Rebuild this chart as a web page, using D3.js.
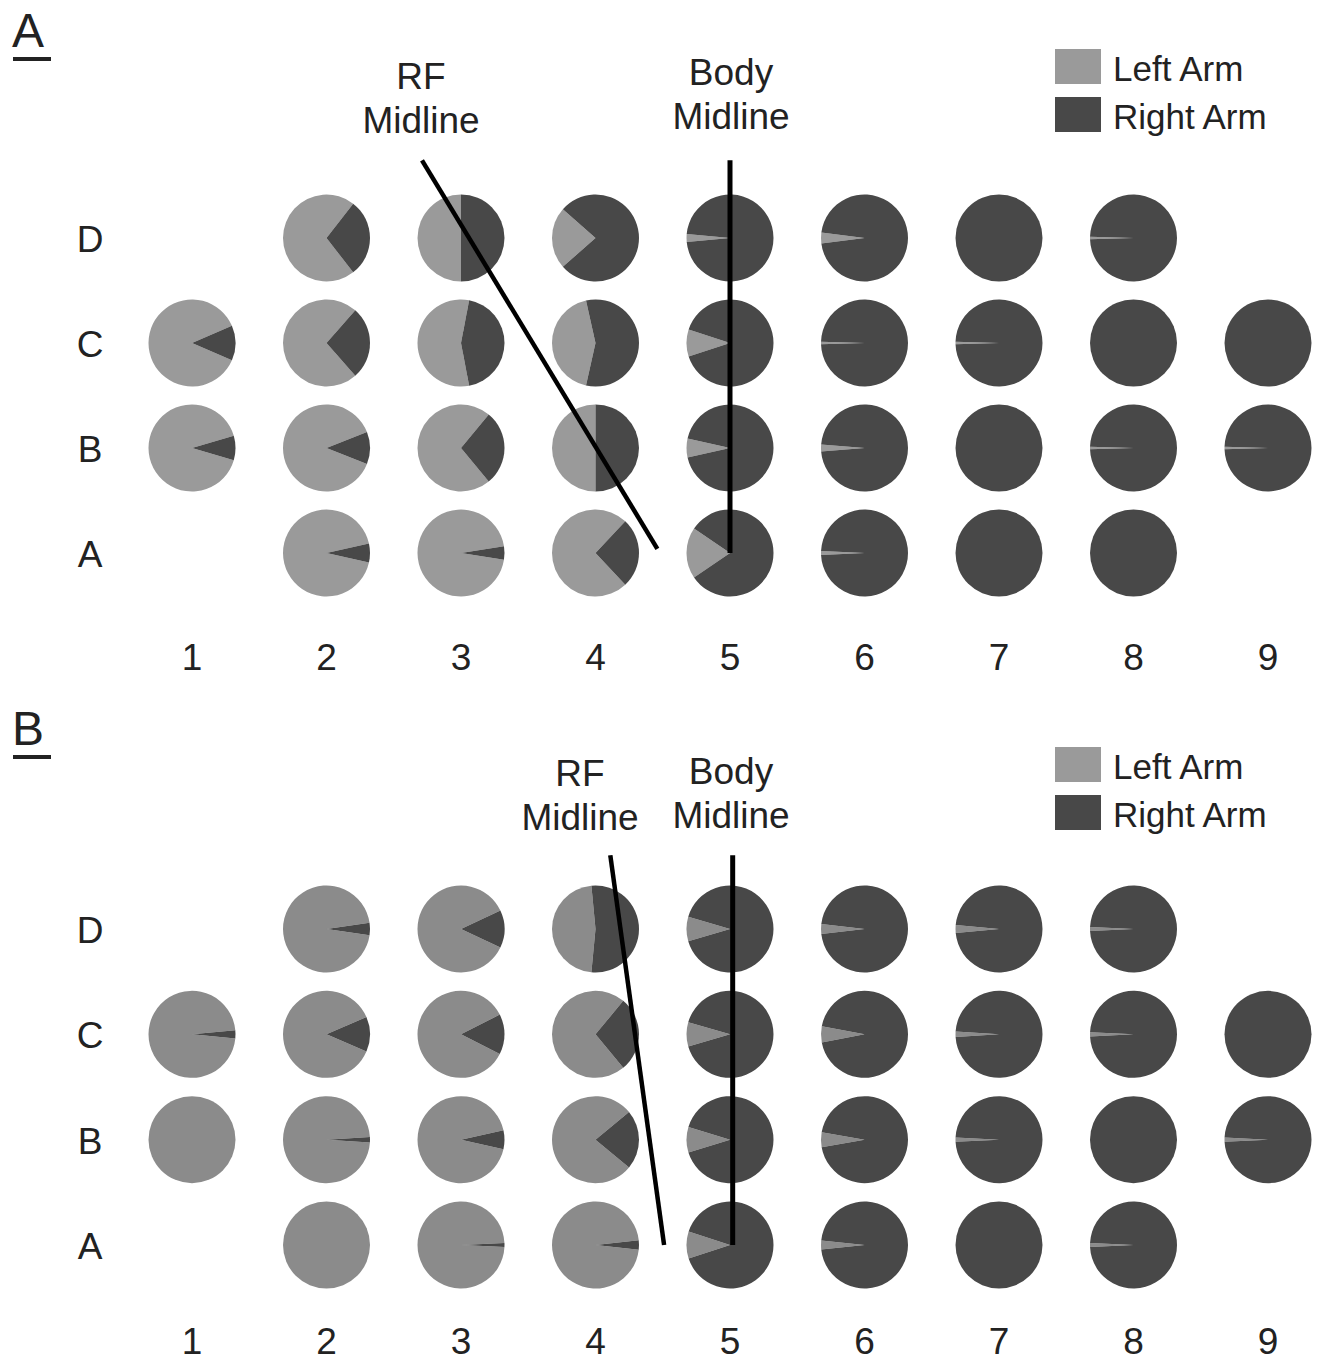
<!DOCTYPE html>
<html>
<head>
<meta charset="utf-8">
<script src="https://cdn.jsdelivr.net/npm/d3@7"></script>
<style>
  html, body { margin: 0; padding: 0; background: #fff; }
  svg text { font-family: "Liberation Sans", Arial, sans-serif; fill: #222; }
</style>
</head>
<body>
<svg id="chart" width="1318" height="1361"></svg>
<script>
// ---- Data ----
const columns = [1, 2, 3, 4, 5, 6, 7, 8, 9];
const rows = ["D", "C", "B", "A"];
const seriesNames = ["Left Arm", "Right Arm"];

// Fraction of "Left Arm" per cell (rows D, C, B, A; columns 1..9); null = no pie
const panelALeft = [
  [null, 0.71, 0.50, 0.23, 0.03, 0.04, 0.00, 0.01, null],
  [0.87, 0.73, 0.56, 0.43, 0.10, 0.01, 0.01, 0.00, 0.00],
  [0.91, 0.88, 0.72, 0.50, 0.07, 0.025, 0.00, 0.01, 0.01],
  [null, 0.93, 0.95, 0.74, 0.19, 0.015, 0.00, 0.00, null]
];
const panelBLeft = [
  [null, 0.955, 0.86, 0.47, 0.09, 0.037, 0.03, 0.015, null],
  [0.97, 0.87, 0.85, 0.72, 0.09, 0.06, 0.02, 0.015, 0.00],
  [1.00, 0.98, 0.93, 0.78, 0.095, 0.055, 0.015, 0.00, 0.015],
  [null, 1.00, 0.985, 0.965, 0.10, 0.033, 0.00, 0.015, null]
];
// Midlines in data coordinates: [column, rowIndex] (rowIndex A=1 ... D=4)
const panelARF = [[2.71, 4.74], [4.46, 1.04]];
const panelBRF = [[4.11, 4.70], [4.51, 1.00]];
const bodyMidline = [[5, 4.74], [5, 1.0]];
const bodyMidlineB = [[5.02, 4.70], [5.02, 1.0]];

// ---- Drawing ----
const svg = d3.select("#chart");
const darkColor = "#484848";
const lightLegend = "#9a9a9a";

const x = d3.scaleLinear().domain([1, 9]).range([192, 1268]);
const rowIdx = { D: 4, C: 3, B: 2, A: 1 };

function drawPanel(opts) {
  const g = svg.append("g");
  const y = d3.scaleLinear().domain([1, 4]).range([opts.yA, opts.yD]);
  const R = 43.5;
  const lightColor = opts.light;

  // Panel letter with underline
  g.append("text").attr("x", 12).attr("y", opts.top + 47)
    .style("font-size", "48px").text(opts.letter);
  g.append("rect").attr("x", 13).attr("y", opts.top + 57).attr("width", 38).attr("height", 4).attr("fill", "#222");

  // Legend
  const lg = g.append("g").attr("transform", `translate(1055,${opts.top + 49})`);
  seriesNames.forEach((name, i) => {
    lg.append("rect").attr("x", 0).attr("y", i * 48).attr("width", 46).attr("height", 35)
      .attr("fill", i === 0 ? lightLegend : darkColor);
    lg.append("text").attr("x", 58).attr("y", i * 48 + 32).style("font-size", "35px").text(name);
  });

  // Row labels
  rows.forEach(r => {
    g.append("text").attr("x", 90).attr("y", y(rowIdx[r]) + 14)
      .attr("text-anchor", "middle").style("font-size", "37px").text(r);
  });
  // Column labels
  columns.forEach(c => {
    g.append("text").attr("x", x(c)).attr("y", opts.colLabelY)
      .attr("text-anchor", "middle").style("font-size", "37px").text(c);
  });

  // Pies
  const arc = d3.arc().innerRadius(0).outerRadius(R);
  opts.data.forEach((rowVals, ri) => {
    const r = rows[ri];
    rowVals.forEach((L, ci) => {
      if (L === null) return;
      const start = 1.5 * Math.PI - Math.PI * L;
      const pie = d3.pie().sort(null).startAngle(start).endAngle(start + 2 * Math.PI);
      const arcs = pie([L, 1 - L]).filter(d => d.value > 0);
      const pg = g.append("g").attr("transform", `translate(${x(columns[ci])},${y(rowIdx[r])})`);
      pg.selectAll("path").data(arcs).join("path")
        .attr("d", arc)
        .attr("fill", d => d.index === 0 ? lightColor : darkColor);
    });
  });

  // Midlines
  const line = d3.line().x(d => x(d[0])).y(d => y(d[1]));
  g.append("path").attr("d", line(opts.rf)).attr("stroke", "#000").attr("stroke-width", 4.5).attr("fill", "none");
  g.append("path").attr("d", line(opts.body)).attr("stroke", "#000").attr("stroke-width", 5).attr("fill", "none");

  // Midline labels
  const rfX = opts.rfLabelX;
  g.append("text").attr("x", rfX).attr("y", opts.top + opts.rfY1).attr("text-anchor", "middle").style("font-size", "37px").text("RF");
  g.append("text").attr("x", rfX).attr("y", opts.top + opts.rfY1 + 44).attr("text-anchor", "middle").style("font-size", "37px").text("Midline");
  g.append("text").attr("x", 731).attr("y", opts.top + opts.bodyY1).attr("text-anchor", "middle").style("font-size", "37px").text("Body");
  g.append("text").attr("x", 731).attr("y", opts.top + opts.bodyY1 + 44).attr("text-anchor", "middle").style("font-size", "37px").text("Midline");
}

drawPanel({
  letter: "A", top: 0, yD: 238, yA: 553, colLabelY: 670,
  data: panelALeft, light: "#9a9a9a",
  rf: panelARF, body: bodyMidline,
  rfLabelX: 421, rfY1: 89, bodyY1: 85
});
drawPanel({
  letter: "B", top: 698, yD: 929, yA: 1245, colLabelY: 1354,
  data: panelBLeft, light: "#8b8b8b",
  rf: panelBRF, body: bodyMidlineB,
  rfLabelX: 580, rfY1: 88, bodyY1: 86
});
</script>
</body>
</html>
